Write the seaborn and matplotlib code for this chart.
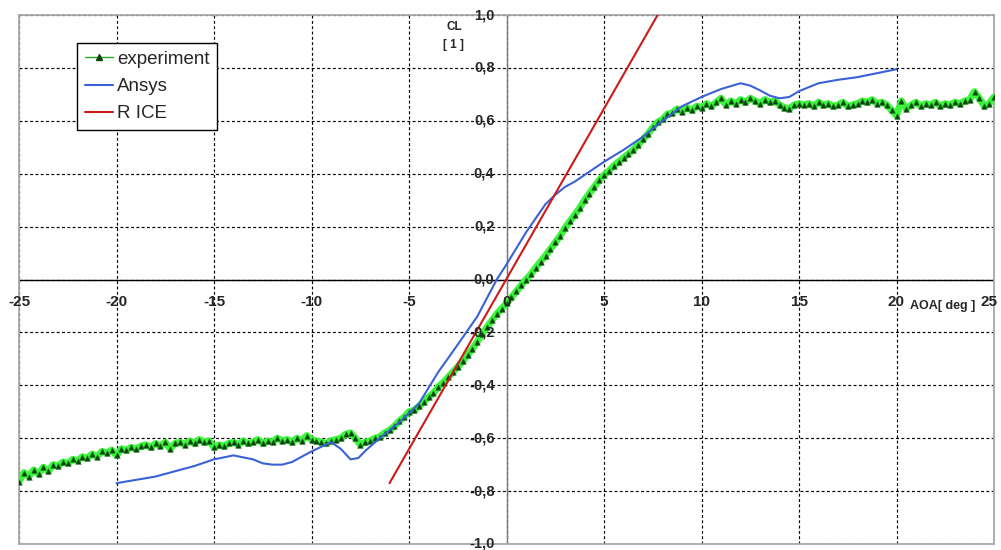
import numpy as np
import matplotlib
matplotlib.use("Agg")
import matplotlib.pyplot as plt
from matplotlib.lines import Line2D
import seaborn as sns

# ---- data -------------------------------------------------------------
# experiment: lift coefficient sampled every 0.25 deg from -25 to 25
aoa_exp = np.linspace(-25, 25, 201)
cl_exp = [
    # -25 .. -20
    -0.765, -0.73, -0.745, -0.72, -0.735, -0.71, -0.725, -0.70, -0.705, -0.69,
    -0.695, -0.68, -0.685, -0.67, -0.675, -0.66, -0.67, -0.65, -0.655, -0.645, -0.665,
    # -19.75 .. -15
    -0.64, -0.645, -0.635, -0.64, -0.63, -0.625, -0.635, -0.62, -0.63, -0.615,
    -0.64, -0.62, -0.615, -0.625, -0.61, -0.62, -0.605, -0.615, -0.61, -0.635,
    # -14.75 .. -10
    -0.625, -0.63, -0.62, -0.615, -0.625, -0.61, -0.62, -0.615, -0.605, -0.62,
    -0.61, -0.615, -0.60, -0.61, -0.605, -0.615, -0.60, -0.61, -0.59, -0.605,
    # -9.75 .. -5
    -0.61, -0.615, -0.62, -0.61, -0.605, -0.60, -0.585, -0.58, -0.60, -0.625,
    -0.615, -0.61, -0.60, -0.595, -0.58, -0.57, -0.555, -0.535, -0.52, -0.50,
    # -4.75 .. 0
    -0.495, -0.48, -0.462, -0.445, -0.43, -0.405, -0.39, -0.37, -0.35, -0.33,
    -0.31, -0.285, -0.262, -0.235, -0.205, -0.18, -0.155, -0.13, -0.11, -0.09,
    # 0.25 .. 5
    -0.068, -0.045, -0.022, 0.0, 0.02, 0.045, 0.068, 0.09, 0.115, 0.14,
    0.165, 0.195, 0.22, 0.245, 0.27, 0.30, 0.325, 0.35, 0.375, 0.395,
    # 5.25 .. 10
    0.41, 0.43, 0.445, 0.46, 0.475, 0.49, 0.51, 0.53, 0.55, 0.575,
    0.595, 0.605, 0.625, 0.63, 0.645, 0.635, 0.65, 0.64, 0.655, 0.65,
    # 10.25 .. 15
    0.665, 0.655, 0.67, 0.685, 0.66, 0.675, 0.665, 0.68, 0.67, 0.685,
    0.675, 0.665, 0.68, 0.67, 0.675, 0.66, 0.65, 0.645, 0.66, 0.665,
    # 15.25 .. 20
    0.66, 0.665, 0.655, 0.67, 0.66, 0.665, 0.655, 0.66, 0.67, 0.655,
    0.66, 0.665, 0.675, 0.67, 0.68, 0.665, 0.67, 0.66, 0.64, 0.62,
    # 20.25 .. 25
    0.675, 0.645, 0.66, 0.67, 0.655, 0.665, 0.66, 0.67, 0.655, 0.665,
    0.66, 0.67, 0.665, 0.675, 0.68, 0.71, 0.685, 0.655, 0.665, 0.69,
]

# CFD (Ansys) polar
aoa_ansys = [-20, -18, -16, -15, -14, -13, -12.5, -12, -11.5, -11, -10, -9,
             -8.5, -8, -7.6, -7.2, -6.5, -5.5, -4.5, -3.5, -2.5, -1.5, -0.5,
             0, 1, 2, 2.5, 3, 3.5, 4, 5, 6, 7, 8, 9, 10, 11, 12, 12.5, 13,
             13.5, 14, 14.5, 15, 16, 17, 18, 19, 20]
cl_ansys = [-0.77, -0.745, -0.705, -0.68, -0.665, -0.68, -0.695, -0.70, -0.70,
            -0.69, -0.65, -0.615, -0.64, -0.68, -0.675, -0.645, -0.60, -0.54,
            -0.47, -0.35, -0.246, -0.14, 0.0, 0.057, 0.178, 0.285, 0.32, 0.35,
            0.37, 0.395, 0.445, 0.49, 0.54, 0.60, 0.655, 0.69, 0.72, 0.742,
            0.733, 0.715, 0.695, 0.685, 0.69, 0.712, 0.742, 0.755, 0.765,
            0.78, 0.795]

# R ICE linear lift line
aoa_rice = [-6.0, 7.75]
cl_rice = [-0.77, 1.0]

x_ticks = [-25, -20, -15, -10, -5, 0, 5, 10, 15, 20, 25]
x_labels = ["-25", "-20", "-15", "-10", "-5", "0", "5", "10", "15", "20", "25"]
y_ticks = [-1.0, -0.8, -0.6, -0.4, -0.2, 0.0, 0.2, 0.4, 0.6, 0.8, 1.0]
y_labels = ["-1,0", "-0,8", "-0,6", "-0,4", "-0,2", "0,0", "0,2", "0,4",
            "0,6", "0,8", "1,0"]

series_names = ["experiment", "Ansys", "R ICE"]

# ---- style ------------------------------------------------------------
sns.set_style("white")
plt.rcParams["font.family"] = ["Liberation Sans", "DejaVu Sans"]

GREEN_GLOW = "#3df53d"
GREEN_MARK = "#0c420c"
BLUE = "#3a62d6"
RED = "#cc1a1a"

fig = plt.figure(figsize=(10.01, 5.5), dpi=100)
ax = fig.add_axes([19 / 1001, 6 / 550, 975 / 1001, 529 / 550])

ax.set_xlim(-25, 25)
ax.set_ylim(-1, 1)
ax.set_xticks(x_ticks)
ax.set_yticks(y_ticks)
ax.tick_params(length=0, labelbottom=False, labelleft=False)
ax.grid(True, color="black", linestyle=(0, (2.5, 2)), linewidth=0.85)
for s in ax.spines.values():
    s.set_color("#a8a8a8")
    s.set_linewidth(1.3)

# axes through the origin
ax.axhline(0, color="black", lw=1.0, zorder=1.5)
ax.axvline(0, color="#7a7a7a", lw=1.0, zorder=1.5)

# ---- series -----------------------------------------------------------
sns.lineplot(x=aoa_exp, y=cl_exp, ax=ax, color=GREEN_GLOW, lw=5,
             errorbar=None, legend=False, zorder=3)
sns.scatterplot(x=aoa_exp, y=cl_exp, ax=ax, marker="^", s=16,
                color=GREEN_MARK, edgecolor="#1a7a1a", linewidth=0.4,
                legend=False, zorder=4)
sns.lineplot(x=aoa_ansys, y=cl_ansys, ax=ax, color=BLUE, lw=1.5,
             errorbar=None, legend=False, zorder=5)
sns.lineplot(x=aoa_rice, y=cl_rice, ax=ax, color=RED, lw=1.5,
             errorbar=None, legend=False, zorder=5)

# ---- tick labels beside the centred axes ------------------------------
for t, lab in zip(x_ticks, x_labels):
    dx = -5 if t == x_ticks[-1] else 0
    ax.annotate(lab, (t, 0), xytext=(dx, -22), textcoords="offset pixels",
                ha="center", va="center", fontsize=11, fontweight="bold",
                annotation_clip=False, zorder=6)
for t, lab in zip(y_ticks, y_labels):
    ax.annotate(lab, (0, t), xytext=(-12, 0), textcoords="offset pixels",
                ha="right", va="center", fontsize=10.5, fontweight="bold",
                annotation_clip=False, zorder=6)

ax.text(-2.7, 0.955, "CL", ha="center", va="center", fontsize=8.5,
        fontweight="bold")
ax.text(-2.7, 0.886, "[ 1 ]", ha="center", va="center", fontsize=8.5,
        fontweight="bold")
ax.text(22.36, -0.10, "AOA[ deg ]", ha="center", va="center", fontsize=9,
        fontweight="bold")

# ---- legend -----------------------------------------------------------
handles = [
    Line2D([0], [0], color="#22b022", lw=1.0, marker="^", markersize=4,
           markerfacecolor=GREEN_MARK, markeredgecolor=GREEN_MARK),
    Line2D([0], [0], color=BLUE, lw=1.5),
    Line2D([0], [0], color=RED, lw=1.5),
]
leg = ax.legend(handles, series_names, loc="upper left",
                bbox_to_anchor=(58 / 975, 1 - 28 / 529), borderaxespad=0,
                frameon=True, fancybox=False, edgecolor="black",
                framealpha=1, fontsize=13.5, handlelength=1.5,
                handletextpad=0.25, labelspacing=0.55, borderpad=0.4)
leg.get_frame().set_linewidth(1.0)
leg.set_zorder(10)

fig.savefig("out.png", dpi=100)
